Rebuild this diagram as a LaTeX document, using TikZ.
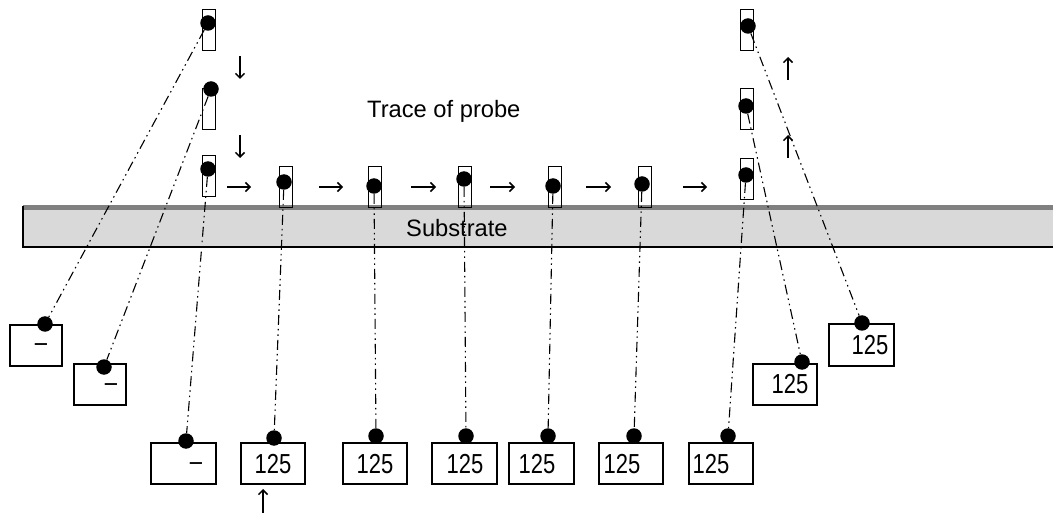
\documentclass[tikz,border=0pt]{standalone}
\usepackage{fontspec}
\setmainfont{Liberation Sans}
\usetikzlibrary{arrows.meta}
\newcommand\narrowtxt[1]{\scalebox{0.8}[1]{#1}}
\begin{document}
\begin{tikzpicture}[x=1pt,y=-1pt,
  probe/.style={draw, line width=1pt, minimum width=13pt, minimum height=41pt, inner sep=0pt},
  pdot/.style={circle, fill=black, minimum size=15.5pt, inner sep=0pt},
  vbox/.style={draw, line width=1.1pt, minimum height=41pt, inner sep=0pt},
  val/.style={font=\fontsize{27.5}{32}\selectfont, inner sep=0pt, anchor=base},
  lbl/.style={font=\fontsize{23.7}{28}\selectfont, inner sep=0pt, anchor=base west},
  trace/.style={dash pattern=on 10pt off 4pt on 1.5pt off 4pt on 1.5pt off 4pt, line width=1.1pt},
  mv/.style={-{Straight Barb[length=4.5pt,width=9pt]}, line width=1.5pt}]
\useasboundingbox (0,0) rectangle (1053,513);
% substrate
\fill[gray!30] (23,210) rectangle (1053,247);
\fill[gray] (23,205) rectangle (1053,210);
\draw[line width=1.2pt] (23,206) -- (23,247) -- (1053,247);
\node[lbl] (subst) at (406,237) {Substrate};
\node[lbl] (trace) at (367,118) {Trace of probe};
% probes
\node[probe] (p1) at (208.5,30.5) {};
\node[probe] (p2) at (208.5,109) {};
\node[probe] (p3) at (208.5,176.5) {};
\node[probe] (p4) at (285.5,187.5) {};
\node[probe] (p5) at (375,187.5) {};
\node[probe] (p6) at (465,187.5) {};
\node[probe] (p7) at (554.5,187.5) {};
\node[probe] (p8) at (644.5,187.5) {};
\node[probe] (p9) at (746.5,179) {};
\node[probe] (p10) at (746.5,109) {};
\node[probe] (p11) at (746.5,30.5) {};
% probe dots
\node[pdot] (d1) at (208,23) {};
\node[pdot] (d2) at (211,89) {};
\node[pdot] (d3) at (208,169) {};
\node[pdot] (d4) at (284,182) {};
\node[pdot] (d5) at (374,186) {};
\node[pdot] (d6) at (464,179) {};
\node[pdot] (d7) at (553,186) {};
\node[pdot] (d8) at (642,184) {};
\node[pdot] (d9) at (746,175) {};
\node[pdot] (d10) at (746,106) {};
\node[pdot] (d11) at (748,26) {};
% value boxes
\node[vbox, minimum width=52pt] (ba) at (36,345.5) {};
\node[vbox, minimum width=52pt] (bb) at (100,384.5) {};
\node[vbox, minimum width=65pt] (bc) at (183.5,463.5) {};
\node[vbox, minimum width=64pt] (bd) at (273,463.5) {};
\node[vbox, minimum width=64pt] (be) at (375,463.5) {};
\node[vbox, minimum width=65pt] (bf) at (464.5,463.5) {};
\node[vbox, minimum width=65pt] (bg) at (541.5,463.5) {};
\node[vbox, minimum width=64pt] (bh) at (631,463.5) {};
\node[vbox, minimum width=64pt] (bi) at (721,463.5) {};
\node[vbox, minimum width=64pt] (bj) at (785,384.5) {};
\node[vbox, minimum width=65pt, minimum height=42pt] (bk) at (861.5,345) {};
% values
\node[val] (ta) at (41,352) {\narrowtxt{–}};
\node[val] (tb) at (111,391) {\narrowtxt{–}};
\node[val] (tc) at (196,470) {\narrowtxt{–}};
\node[val] (td) at (273,473) {\narrowtxt{125}};
\node[val] (te) at (375,473) {\narrowtxt{125}};
\node[val] (tf) at (465,473) {\narrowtxt{125}};
\node[val] (tg) at (537,473) {\narrowtxt{125}};
\node[val] (th) at (622,473) {\narrowtxt{125}};
\node[val] (ti) at (711,473) {\narrowtxt{125}};
\node[val] (tj) at (790,393) {\narrowtxt{125}};
\node[val] (tk) at (870,354) {\narrowtxt{125}};
% box dots
\node[pdot] (ka) at (45,324) {};
\node[pdot] (kb) at (104,367) {};
\node[pdot] (kc) at (186,441) {};
\node[pdot] (kd) at (274,438) {};
\node[pdot] (ke) at (376,436) {};
\node[pdot] (kf) at (466,436) {};
\node[pdot] (kg) at (548,436) {};
\node[pdot] (kh) at (634,436) {};
\node[pdot] (ki) at (728,436) {};
\node[pdot] (kj) at (802,362) {};
\node[pdot] (kk) at (862,323) {};
% trace lines
\draw[trace] (d1) -- (ka);
\draw[trace] (d2) -- (kb);
\draw[trace] (d3) -- (kc);
\draw[trace] (d4) -- (kd);
\draw[trace] (d5) -- (ke);
\draw[trace] (d6) -- (kf);
\draw[trace] (d7) -- (kg);
\draw[trace] (d8) -- (kh);
\draw[trace] (d9) -- (ki);
\draw[trace] (d10) -- (kj);
\draw[trace] (d11) -- (kk);
% motion arrows
\draw[mv] (240,56) -- (240,79);
\draw[mv] (240,135) -- (240,158);
\draw[mv] (788,80) -- (788,57);
\draw[mv] (788,158) -- (788,135);
\draw[mv] (263,513) -- (263,489);
\draw[mv] (227,187) -- (251,187);
\draw[mv] (319,187) -- (343,187);
\draw[mv] (411,187) -- (436,187);
\draw[mv] (490,187) -- (515,187);
\draw[mv] (586,187) -- (611,187);
\draw[mv] (683,187) -- (707,187);
\end{tikzpicture}
\end{document}
